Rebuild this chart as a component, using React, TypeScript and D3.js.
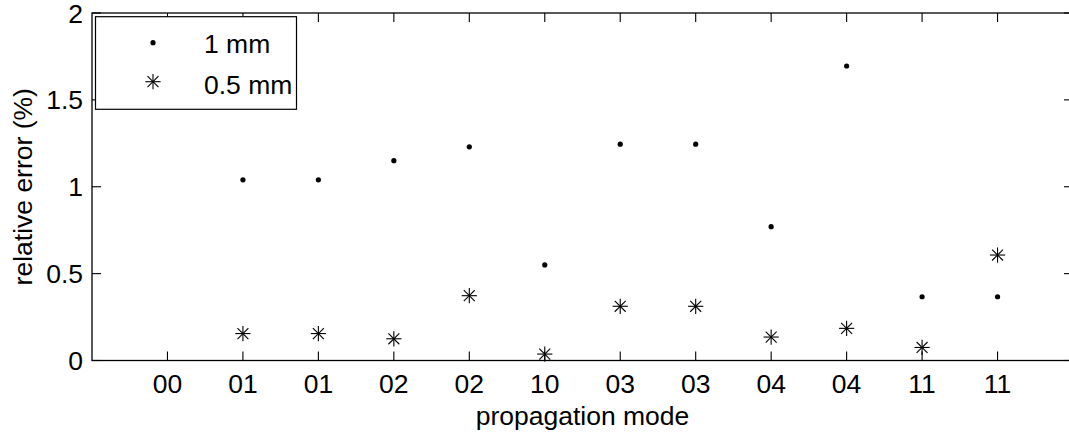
import React from "react";
import * as d3 from "d3";

const categories = ["00", "01", "01", "02", "02", "10", "03", "03", "04", "04", "11", "11"];
const series1mm: (number | null)[] = [null, 1.04, 1.04, 1.15, 1.23, 0.55, 1.245, 1.245, 0.77, 1.695, 0.367, 0.367];
const series05mm: (number | null)[] = [null, 0.155, 0.155, 0.125, 0.373, 0.037, 0.312, 0.312, 0.135, 0.185, 0.075, 0.607];
const yTicks = [0, 0.5, 1, 1.5, 2];
const yTickLabels = ["0", "0.5", "1", "1.5", "2"];
const legendLabels = ["1 mm", "0.5 mm"];

const W = 1069;
const H = 434;
const FONT = "'Liberation Sans', Arial, Helvetica, sans-serif";

function Star({ x, y, r }: { x: number; y: number; r: number }) {
  const d = r * 0.72;
  return (
    <g stroke="#000" strokeWidth={1.1}>
      <line x1={x - r} y1={y} x2={x + r} y2={y} />
      <line x1={x} y1={y - r} x2={x} y2={y + r} />
      <line x1={x - d} y1={y - d} x2={x + d} y2={y + d} />
      <line x1={x - d} y1={y + d} x2={x + d} y2={y - d} />
    </g>
  );
}

export default function App() {
  const x = d3.scaleLinear().domain([0, categories.length + 1]).range([92, 1073]);
  const y = d3.scaleLinear().domain([0, 2]).range([360.5, 13]);
  const [x0, x1] = x.range();
  const [yb, yt] = y.range();
  const tickLen = 9;
  const fs = 26.5;

  return (
    <svg width={W} height={H} style={{ position: "absolute", left: 0, top: 0, background: "#fff" }} fontFamily={FONT}>
      <rect x={0} y={0} width={W} height={H} fill="#fff" />
      {/* axes box */}
      <rect x={x0} y={yt} width={x1 - x0} height={yb - yt} fill="none" stroke="#000" strokeWidth={1.3} />
      {/* x ticks */}
      {categories.map((c, i) => {
        const px = x(i + 1);
        return (
          <g key={"xt" + i}>
            <line x1={px} x2={px} y1={yb} y2={yb - tickLen} stroke="#000" strokeWidth={1.1} />
            <line x1={px} x2={px} y1={yt} y2={yt + tickLen} stroke="#000" strokeWidth={1.1} />
            <text x={px} y={392.5} fontSize={fs} textAnchor="middle" fill="#000">{c}</text>
          </g>
        );
      })}
      {/* y ticks */}
      {yTicks.map((t, i) => {
        const py = y(t);
        return (
          <g key={"yt" + i}>
            <line x1={x0} x2={x0 + tickLen} y1={py} y2={py} stroke="#000" strokeWidth={1.1} />
            <line x1={x1} x2={x1 - tickLen} y1={py} y2={py} stroke="#000" strokeWidth={1.1} />
            <text x={83} y={py + 9.5} fontSize={fs} textAnchor="end" fill="#000">{yTickLabels[i]}</text>
          </g>
        );
      })}
      {/* axis labels */}
      <text x={(x0 + x1) / 2} y={424.5} fontSize={fs} textAnchor="middle" fill="#000">propagation mode</text>
      <text transform={`translate(31.5, ${(yt + yb) / 2}) rotate(-90)`} fontSize={fs} textAnchor="middle" fill="#000">relative error (%)</text>
      {/* data */}
      {series1mm.map((v, i) => v == null ? null : (
        <circle key={"a" + i} cx={x(i + 1)} cy={y(v)} r={2.6} fill="#000" />
      ))}
      {series05mm.map((v, i) => v == null ? null : (
        <Star key={"b" + i} x={x(i + 1)} y={y(v)} r={7.6} />
      ))}
      {/* legend */}
      <rect x={95.5} y={16.7} width={201} height={92.6} fill="#fff" stroke="#000" strokeWidth={1.2} />
      <circle cx={153} cy={42.7} r={2.6} fill="#000" />
      <Star x={153} y={81.7} r={7.6} />
      <text x={204} y={52.5} fontSize={fs} fill="#000">{legendLabels[0]}</text>
      <text x={204} y={94} fontSize={fs} fill="#000">{legendLabels[1]}</text>
    </svg>
  );
}
